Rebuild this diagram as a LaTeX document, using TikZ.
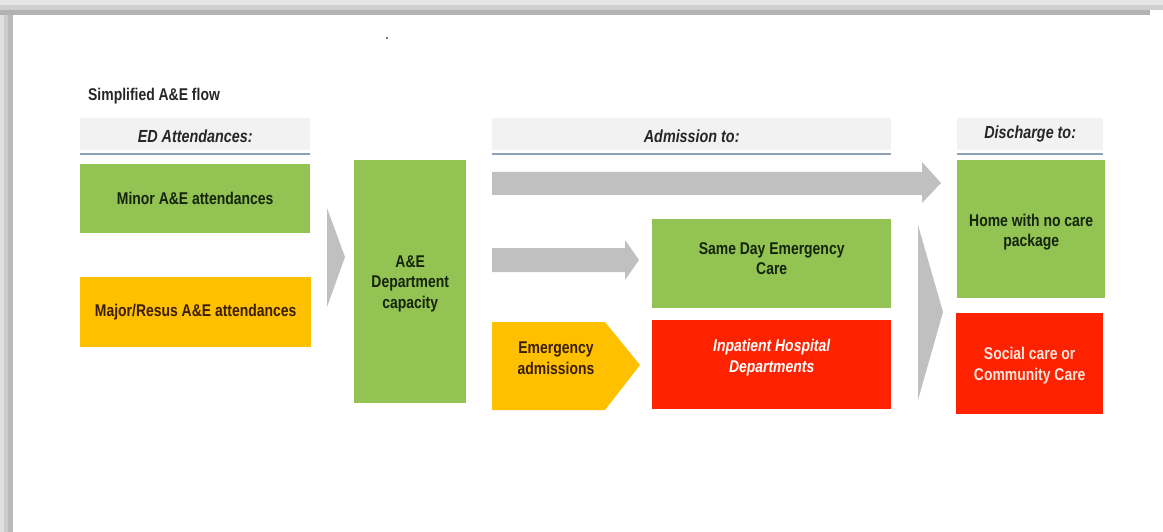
\documentclass[tikz,border=0pt]{standalone}
\usepackage{fontspec}
\setmainfont{Liberation Sans}[FakeStretch=0.82]
\definecolor{boxgreen}{HTML}{92C353}
\definecolor{boxorange}{HTML}{FFC000}
\definecolor{boxred}{HTML}{FF2200}
\definecolor{arrowgrey}{HTML}{C0C0C0}
\definecolor{headfill}{HTML}{F2F2F2}
\definecolor{headline}{HTML}{8EA1B5}
\definecolor{darkgreentext}{HTML}{15240C}
\definecolor{browntext}{HTML}{3A1E00}
\definecolor{palered}{HTML}{FFE6DC}
\begin{document}
\begin{tikzpicture}[x=1pt,y=-1pt,
  blk/.style={draw=none, inner sep=0pt, anchor=north west},
  greenbox/.style={blk, fill=boxgreen},
  orangebox/.style={blk, fill=boxorange},
  redbox/.style={blk, fill=boxred},
  lbl/.style={inner sep=0pt, align=center, font=\bfseries\fontsize{17}{20.5}\selectfont, text=darkgreentext},
  header/.style={blk, fill=headfill, minimum height=32pt},
  headtext/.style={inner sep=0pt, font=\bfseries\itshape\fontsize{17.5}{20}\selectfont, text=black!85},
  headrule/.style={draw=headline, line width=1.8pt},
  blockarrow/.style={fill=arrowgrey, draw=none}
]
\useasboundingbox (0,0) rectangle (1163,532);
\fill[white] (0,0) rectangle (1163,532);

% frame edges
\fill[black!10] (0,0) rectangle (1163,5);
\fill[black!19] (0,5) rectangle (1163,10);
\fill[black!30] (0,10) rectangle (1150,15);
\fill[black!12] (0,15) rectangle (4,532);
\fill[black!20] (4,15) rectangle (8,532);
\fill[black!27] (8,15) rectangle (13,532);

% stray mark and title
\fill[black!70] (387,38) circle (1.2);
\node[anchor=west, inner sep=0pt, font=\bfseries\fontsize{17}{20}\selectfont, text=black!85] (title) at (88,96) {Simplified A\&E flow};

% column headers
\node[header, minimum width=230pt] (hED) at (80,118) {};
\node[headtext] at ([yshift=-2pt]hED.center) {ED Attendances:};
\draw[headrule] (80,154) -- (310,154);

\node[header, minimum width=399pt] (hAdm) at (492,118) {};
\node[headtext] at ([yshift=-2pt]hAdm.center) {Admission to:};
\draw[headrule] (492,154) -- (891,154);

\node[header, minimum width=146pt] (hDis) at (957,118) {};
\node[headtext] at (hDis.center) {Discharge to:};
\draw[headrule] (957,154) -- (1103,154);

% attendance boxes
\node[greenbox, minimum width=230pt, minimum height=69pt] (minor) at (80,164) {};
\node[lbl] at (minor.center) {Minor A\&E attendances};
\node[orangebox, minimum width=231pt, minimum height=70pt] (major) at (80,277) {};
\node[lbl, text=browntext] at (major.center) {Major/Resus A\&E attendances};

% department capacity
\node[greenbox, minimum width=112pt, minimum height=243pt] (dept) at (354,160) {};
\node[lbl] at ([yshift=-2pt]dept.center) {A\&E\\Department\\capacity};

% admission destinations
\node[greenbox, minimum width=239pt, minimum height=89pt] (sdec) at (652,219) {};
\node[lbl] at ([yshift=5pt]sdec.center) {Same Day Emergency\\Care};
\node[redbox, minimum width=239pt, minimum height=89pt] (inpt) at (652,320) {};
\node[lbl, text=white, font=\bfseries\itshape\fontsize{17}{20.5}\selectfont] at ([yshift=7pt]inpt.center) {Inpatient Hospital\\Departments};

% emergency admissions tag
\coordinate (eaTL) at (492,322);
\coordinate (eaTip) at (640,365);
\fill[boxorange] (eaTL) -- (605,322) -- (eaTip) -- (605,410) -- (492,410) -- cycle;
\node[lbl, text=browntext] (ea) at (556,358) {Emergency\\admissions};

% discharge destinations
\node[greenbox, minimum width=148pt, minimum height=138pt] (home) at (957,160) {};
\node[lbl] at ([yshift=-3pt]home.center) {Home with no care\\package};
\node[redbox, minimum width=147pt, minimum height=101pt] (social) at (956,313) {};
\node[lbl, text=palered] at ([yshift=-2pt]social.center) {Social care or\\Community Care};

% grey flow arrows
\fill[blockarrow] (327,208) -- (345,257) -- (327,307) -- cycle;
\fill[blockarrow] (492,172) -- (922,172) -- (922,162) -- (941,183) -- (922,203) -- (922,195) -- (492,195) -- cycle;
\fill[blockarrow] (492,248) -- (625,248) -- (625,240) -- (639,260) -- (625,280) -- (625,272) -- (492,272) -- cycle;
\fill[blockarrow] (918,225) -- (943,312) -- (918,400) -- cycle;
\end{tikzpicture}
\end{document}
